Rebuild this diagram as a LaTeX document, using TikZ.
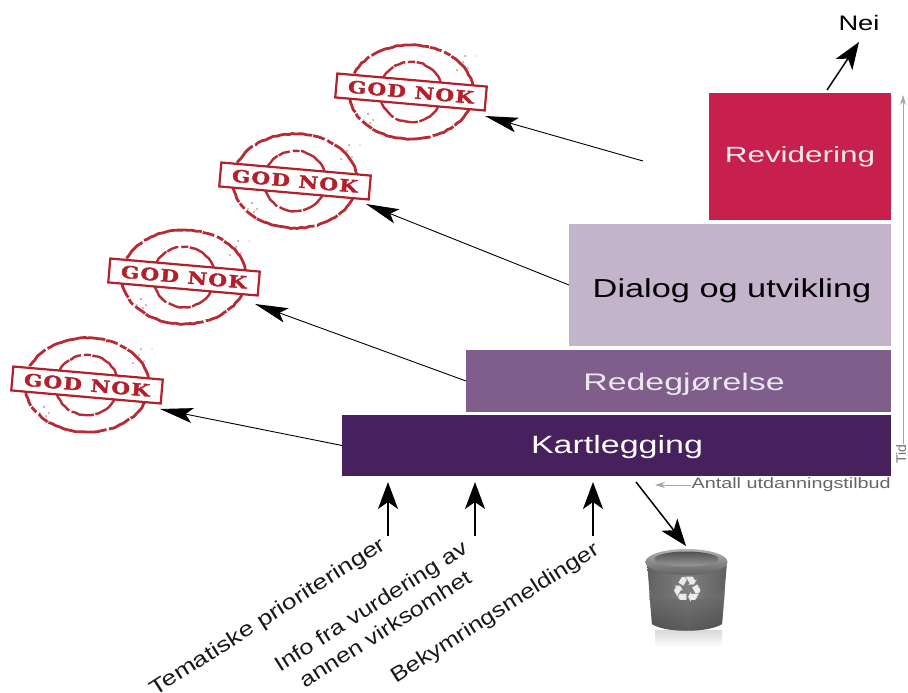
\documentclass[tikz,border=0pt]{standalone}
\usepackage{fontspec}
\setmainfont{Liberation Sans}
\newfontfamily\stampfont[LetterSpace=6,FakeBold=1.8]{DejaVu Serif Bold}
\usetikzlibrary{arrows.meta,decorations.pathmorphing}
\definecolor{stampred}{HTML}{B3202B}
\definecolor{revcol}{HTML}{C8204C}
\definecolor{dialcol}{HTML}{C3B4CB}
\definecolor{redecol}{HTML}{7F5E8C}
\definecolor{kartcol}{HTML}{47215E}
\newcommand{\wide}[2]{\scalebox{#1}[1]{#2}}
\tikzset{
  stage/.style={anchor=north west,inner sep=0pt,outer sep=0pt,minimum width=#1},
  bigarrow/.style={draw=black,line width=1.5pt,-{Stealth[length=27pt,width=20pt,inset=7pt]}},
  thinarrow/.style={draw=black,line width=0.9pt,-{Stealth[length=33pt,width=15pt,inset=7pt]}},
  grayarrow/.style={draw=black!35,line width=0.8pt,-{Stealth[length=10pt,width=6pt]}},
  sidelabel/.style={rotate=32.5,font=\fontsize{21}{27}\selectfont,anchor=south east,align=center,text=black!90,inner sep=0pt},
  ring/.style={draw=stampred,opacity=0.95,decorate,decoration={random steps,segment length=4pt,amplitude=.5pt},
    dash pattern=on 40pt off 1.5pt on 23pt off 2.5pt on 60pt off 1pt on 12pt off 3pt on 7pt off 1.5pt},
}
% \stampat{name}{x}{y}: one "GOD NOK" stamp centred at pixel (x,y)
\newcommand{\stampat}[3]{%
  \begin{scope}[shift={(#2,#3)}]
    \draw[ring,line width=2.8pt] (0,0) ellipse [x radius=62,y radius=47];
    \draw[ring,line width=2.4pt] (0,0) ellipse [x radius=31,y radius=30];
    \fill[stampred,opacity=.55] (52,-30) circle (1pt) (57,-24) circle (.8pt) (65,-36) circle (.7pt) (54,-36) circle (1pt)
      (-43,22) circle (1.2pt) (-38,28) circle (1pt) (-47,28) circle (.8pt) (46,-22) circle (1pt) (-41,31) circle (1pt);
    \node[rotate=-5,draw=stampred,fill=white,line width=2.2pt,minimum width=150pt,minimum height=24pt,inner sep=0pt,
      text=stampred,font=\stampfont\fontsize{17}{19}\selectfont] (#1) {\wide{1.26}{GOD NOK}};
  \end{scope}}
\begin{document}
\begin{tikzpicture}[x=1pt,y=-1pt]
\useasboundingbox (0,0) rectangle (908,693);
\fill[white] (0,0) rectangle (908,693);
% stages
\node[stage=182pt,minimum height=127pt,fill=revcol] (rev) at (709,93) {};
\node[stage=322pt,minimum height=122pt,fill=dialcol] (dial) at (569,224) {};
\node[stage=425pt,minimum height=62pt,fill=redecol] (rede) at (466,350) {};
\node[stage=549pt,minimum height=61pt,fill=kartcol] (kart) at (342,415) {};
\node[font=\fontsize{22}{26}\selectfont,text=white!92!black] (revt) at (800,157) {\wide{1.43}{Revidering}};
\node[font=\fontsize{26}{30}\selectfont,text=black] (dialt) at (732,291) {\wide{1.32}{Dialog og utvikling}};
\node[font=\fontsize{24}{28}\selectfont,text=white!85!redecol] (redet) at (684,384) {\wide{1.41}{Redegjørelse}};
\node[font=\fontsize{25}{29}\selectfont,text=white] (kartt) at (617,447) {\wide{1.36}{Kartlegging}};
% stamps
\stampat{s1}{87}{385}
\stampat{s2}{184}{277}
\stampat{s3}{295}{181}
\stampat{s4}{411}{92}
% Nei
\node[font=\fontsize{21}{24}\selectfont,inner sep=0pt] (nei) at (859,23) {\wide{1.3}{Nei}};
\coordinate (reitop) at (827,90);
\coordinate (neitip) at (859,42);
\draw[bigarrow] (reitop) -- (neitip);
% free ends
\coordinate (free) at (643,161);
\coordinate (t4) at (485,116);
\coordinate (t3) at (366,204);
\coordinate (t2) at (255,304);
\coordinate (t1) at (160,409);
\draw[thinarrow] (free) -- (t4);
\draw[thinarrow] (dial.west) -- (t3);
\draw[thinarrow] (rede.west) -- (t2);
\draw[thinarrow] (kart.west) -- (t1);
% time axis
\coordinate (tidbot) at (903,465);
\coordinate (tidtop) at (903,95);
\draw[grayarrow] (tidbot) -- (tidtop);
\node[rotate=90,font=\fontsize{14}{16}\selectfont,text=black!55,fill=white,inner sep=1pt,anchor=west] (tid) at (901,465) {Tid};
% antall
\node[font=\fontsize{15}{18}\selectfont,text=black!60,anchor=east,inner sep=0pt] (antall) at (891,485) {\wide{1.32}{Antall utdanningstilbud}};
\coordinate (antalltip) at (655,485);
\draw[grayarrow] (antall.west) -- (antalltip);
% bottom labels and arrows
\coordinate (a1) at (388,482);\coordinate (a2) at (475,482);\coordinate (a3) at (593,482);
\coordinate (b1) at (388,536);\coordinate (b2) at (475,536);\coordinate (b3) at (593,536);
\draw[bigarrow] (b1) -- (a1);
\draw[bigarrow] (b2) -- (a2);
\draw[bigarrow] (b3) -- (a3);
\node[sidelabel] (l1) at (390,552) {\wide{1.26}{Tematiske prioriteringer}};
\node[sidelabel] (l2) at (484,575) {\wide{1.2}{Info fra vurdering av}\\\wide{1.2}{annen virksomhet}};
\node[sidelabel] (l3) at (603,557) {\wide{1.2}{Bekymringsmeldinger}};
% bin
\shade[top color=black!15,bottom color=white] (655,630) rectangle (722,647);
\shade[left color=black!62,right color=black!62,middle color=black!50] (647,562) -- (652,624) .. controls (665,633) and (708,633) .. (722,624) -- (727,562) -- cycle;
\shade[top color=black!55,bottom color=black!75,opacity=.6] (649,592) -- (652,624) .. controls (665,633) and (708,633) .. (722,624) -- (725,592) .. controls (700,602) and (670,602) .. (649,592) -- cycle;
\shade[top color=black!30,bottom color=black!62] (686.5,562) ellipse [x radius=41,y radius=13];
\shade[top color=black!68,bottom color=black!40] (686.5,559) ellipse [x radius=32,y radius=7.5];
\node[font=\fontsize{36}{38}\selectfont,inner sep=0pt,text=black!8] (recycle) at (688,590) {\fontspec{DejaVu Sans}♻};
\coordinate (bintop) at (686,546);
\coordinate (kartout) at (636,482);
\draw[bigarrow] (kartout) -- (bintop);
\end{tikzpicture}
\end{document}
